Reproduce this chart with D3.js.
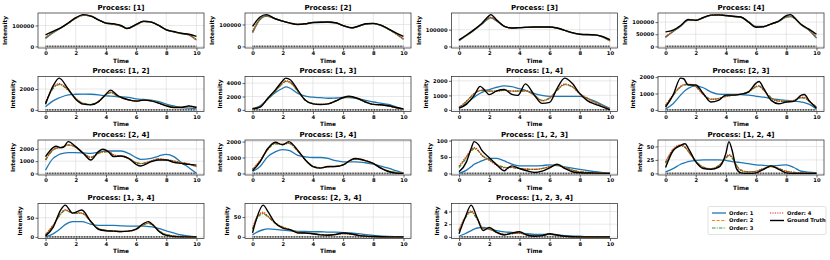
<!DOCTYPE html>
<html><head><meta charset="utf-8">
<script src="https://cdn.jsdelivr.net/npm/d3@7"></script>
<style>
body{margin:0;background:#fff}
svg{display:block}
text{font-family:"DejaVu Sans",sans-serif;font-weight:bold;fill:#000}
</style>
</head><body>
<svg id="c" width="830" height="260"></svg>
<script>
// ---------------- DATA ----------------
const processes = ["[1]","[2]","[3]","[4]","[1, 2]","[1, 3]","[1, 4]","[2, 3]","[2, 4]","[3, 4]","[1, 2, 3]","[1, 2, 4]","[1, 3, 4]","[2, 3, 4]","[1, 2, 3, 4]"];
const xTicks = [0,2,4,6,8,10];
const yTicks = [[0,100000],[0,100000],[0,100000],[0,50000,100000],[0,2000],[0,2000,4000],[0,1000,2000],[0,1000,2000],[0,1000,2000],[0,1000,2000],[0,50,100],[0,25,50],[0,50],[0,50],[0,2,4]];
const seriesNames = ["Order: 1","Order: 2","Order: 3","Order: 4","Ground Truth"];
const obsRange = [0,10];

const t1 = [0,0.5,1,1.5,2,2.5,3,3.5,4,4.5,5,5.4,6,6.5,7,7.5,8,8.5,9,9.5,10];
const gt1 = [55000,72000,89000,112000,137000,152000,145000,127000,111000,108000,100000,85000,105000,121000,116000,100000,79000,71000,63000,58000,48000];
const o1_1 = [38000,66000,87000,111000,136000,150000,146000,128000,112000,107000,98000,87000,103000,119000,117000,101000,80000,70000,62000,55000,30000];
const o2_1 = [41000,68000,88000,110000,135000,149000,145000,127000,111000,106000,97000,85000,102000,118000,116000,100000,79000,69000,61000,54000,29000];
const o3_1 = [40000,67000,87000,110000,134000,148000,145000,127000,111000,106000,97000,86000,103000,119000,116000,100000,79000,69000,61000,54000,31000];
const o4_1 = [42000,68000,88000,111000,135000,149000,145000,127000,111000,107000,98000,86000,103000,119000,116000,100000,80000,70000,62000,55000,32000];

const t2 = [0,0.5,0.9,1.5,2,2.5,3,3.5,4,5,5.5,6,6.6,7,7.5,8,8.5,9,9.5,10];
const gt2 = [91000,134000,145000,126000,115000,106000,100000,103000,109000,111000,108000,95000,85000,92000,103000,105000,97000,80000,62000,46000];
const o1_2 = [62000,122000,138000,127000,115000,106000,100000,103000,108000,110000,107000,95000,84000,91000,102000,104000,96000,79000,58000,33000];
const o2_2 = [64000,124000,139000,127000,115000,106000,100000,103000,109000,110000,107000,94000,84000,91000,102000,104000,96000,78000,57000,32000];
const o3_2 = [66000,125000,139000,126000,115000,106000,100000,103000,109000,111000,108000,95000,85000,92000,102000,104000,96000,79000,58000,34000];
const o4_2 = [68000,126000,140000,126000,115000,106000,100000,103000,109000,111000,108000,95000,85000,92000,103000,105000,97000,79000,59000,35000];

const t3 = [0,0.5,1,1.5,2,2.1,2.5,3,3.5,4,5,6,6.5,7,7.5,8,9,9.5,10];
const gt3 = [39000,68000,100000,137000,184000,190000,157000,120000,110000,112000,116000,116000,110000,96000,82000,73000,69000,59000,41000];
const o1_3 = [34000,65000,97000,132000,168000,170000,151000,120000,110000,112000,115000,115000,109000,95000,81000,72000,68000,57000,32000];
const o2_3 = [35000,66000,98000,133000,170000,172000,152000,120000,110000,112000,115000,115000,109000,95000,81000,72000,68000,57000,33000];
const o3_3 = [36000,66000,98000,134000,171000,173000,153000,120000,110000,112000,115000,115000,109000,95000,81000,72000,68000,58000,34000];
const o4_3 = [37000,67000,99000,134000,172000,174000,153000,121000,110000,112000,116000,116000,110000,96000,82000,73000,68000,58000,35000];

const t4 = [0,0.5,1,1.5,2,2.5,3,3.5,4,4.5,5,5.5,6,6.5,7,7.5,8,8.3,8.5,9,9.5,10];
const gt4 = [60000,67000,86000,111000,107000,119000,129000,130000,127000,124000,121000,100000,79000,81000,93000,104000,127000,131000,121000,90000,71000,50000];
const o1_4 = [37000,61000,83000,107000,108000,118000,128000,129000,127000,123000,120000,101000,82000,82000,92000,103000,121000,123000,117000,88000,67000,34000];
const o2_4 = [38000,62000,84000,108000,108000,118000,128000,129000,127000,123000,120000,101000,82000,82000,92000,103000,122000,124000,118000,89000,68000,35000];
const o3_4 = [39000,62000,84000,108000,108000,118000,128000,129000,127000,123000,120000,101000,81000,82000,92000,103000,122000,125000,118000,89000,68000,36000];
const o4_4 = [40000,63000,85000,109000,108000,118000,128000,129000,127000,124000,121000,101000,81000,82000,93000,104000,123000,126000,119000,89000,69000,37000];

const t5 = [0,0.5,0.9,1.5,2,2.5,3,3.5,4,4.3,4.8,5.5,6,6.5,7,7.5,8,8.5,9,9.5,10];
const gt5 = [550,2300,3050,2000,1030,550,480,770,1500,1900,1350,970,840,940,870,650,390,230,230,390,230];
const o1_5 = [300,870,1150,1450,1500,1520,1500,1450,1350,1320,1260,1200,1050,1000,940,800,550,380,230,170,130];
const o2_5 = [700,2100,2480,1900,1100,620,520,800,1450,1680,1300,960,860,920,860,650,420,280,260,330,250];
const o3_5 = [680,2050,2420,1880,1120,640,540,800,1420,1640,1300,970,870,920,860,660,430,290,260,320,260];
const o4_5 = [720,2150,2520,1920,1090,610,510,790,1460,1700,1310,960,860,930,860,650,420,280,250,340,240];

const t6 = [0,0.5,1,1.5,2,2.2,2.5,3,3.5,4,4.5,5,5.5,6,6.4,7,7.5,8,8.5,9,9.5,10];
const gt6 = [150,400,1700,2950,4350,4750,4500,2950,1450,900,800,900,1330,1850,2050,1700,1180,820,770,620,360,150];
const o1_6 = [150,600,1600,2560,3230,3430,3230,2460,2050,1900,1820,1740,1780,1850,1850,1650,1430,1180,1000,820,450,100];
const o2_6 = [200,500,1650,2800,4000,4300,4100,2800,1450,950,820,900,1300,1800,1950,1650,1150,820,740,580,330,100];
const o3_6 = [220,520,1620,2750,3950,4250,4050,2780,1470,960,830,910,1300,1790,1940,1640,1150,830,740,580,330,110];
const o4_6 = [190,490,1670,2830,4050,4350,4150,2820,1440,940,810,890,1310,1810,1970,1660,1160,820,750,590,340,100];

const t7 = [0,0.5,1,1.4,1.7,2,2.5,3,3.5,3.9,4.4,5,5.5,6,6.5,7,7.5,8,8.5,9,9.5,10];
const gt7 = [120,400,1000,1620,1360,1050,1310,1400,1070,1000,1790,1000,450,520,1480,2190,1830,1120,640,400,210,0];
const o1_7 = [100,450,880,1150,1300,1400,1560,1650,1600,1480,1350,1120,1000,930,930,930,930,930,800,600,350,100];
const o2_7 = [170,600,1120,1330,1360,1290,1290,1360,1290,1300,1310,1000,640,810,1360,1760,1600,1120,800,520,280,50];
const o3_7 = [160,580,1100,1320,1350,1290,1280,1350,1290,1290,1300,1010,660,820,1340,1730,1580,1130,810,530,290,60];
const o4_7 = [180,610,1130,1340,1370,1300,1300,1370,1290,1310,1330,990,630,800,1380,1780,1610,1110,790,510,270,40];

const t8 = [0,0.5,1,1.2,1.5,2,2.5,3,3.5,4,4.5,5,5.5,6,6.2,6.5,7,7.5,8,8.5,9,9.2,9.5,10];
const gt8 = [170,900,1940,1900,1520,1520,1000,480,580,900,900,960,1100,1630,1730,1310,580,380,480,520,900,940,580,100];
const o1_8 = [60,380,900,1100,1310,1460,1350,1100,960,940,940,940,900,830,810,780,690,630,580,530,480,450,350,60];
const o2_8 = [270,900,1420,1520,1560,1420,940,650,690,830,900,960,1100,1420,1450,1210,730,540,520,580,750,740,540,170];
const o3_8 = [250,880,1400,1500,1550,1430,960,660,700,830,900,960,1090,1400,1430,1200,740,550,520,570,730,720,540,180];
const o4_8 = [280,920,1440,1540,1570,1410,930,640,680,820,900,960,1110,1440,1470,1220,720,530,510,590,770,760,530,160];

const t9 = [0,0.5,0.7,1,1.2,1.5,2,2.5,3,3.5,3.8,4.2,4.5,5,5.5,6,6.3,7,7.5,8,8.5,9,9.5,10];
const gt9 = [1370,2110,2220,2110,2160,2600,2190,1640,1100,1780,1970,1730,1370,1420,1230,740,600,960,1100,1100,900,820,740,680];
const o1_9 = [270,1230,1400,1590,1650,1700,1700,1670,1640,1730,1800,1830,1830,1830,1640,1290,1150,1230,1420,1560,1370,880,470,0];
const o2_9 = [1100,1920,2050,2110,2200,2330,2140,1640,1320,1640,1760,1780,1510,1420,1230,880,800,1010,1180,1100,1010,880,770,550];
const o3_9 = [1080,1900,2040,2100,2180,2300,2130,1650,1330,1630,1750,1770,1510,1420,1240,890,810,1000,1170,1100,1010,880,760,560];
const o4_9 = [1120,1940,2070,2120,2210,2350,2150,1630,1310,1650,1770,1790,1500,1410,1220,870,790,1020,1190,1110,1000,870,780,540];

const t10 = [0,0.5,1,1.5,2,2.4,3,3.5,4,4.5,5,5.5,6,6.5,6.8,7.5,8,8.5,9,9.5,10];
const gt10 = [160,730,1550,1960,1800,2000,1450,840,430,330,430,430,530,840,940,800,630,330,120,20,0];
const o1_10 = [120,430,1040,1350,1490,1450,1140,1040,1000,1000,940,800,730,730,730,670,590,460,330,170,20];
const o2_10 = [250,800,1500,1880,1830,1900,1400,850,450,360,420,440,540,820,900,790,600,340,150,50,10];
const o3_10 = [230,780,1480,1860,1820,1880,1410,860,460,370,420,440,540,810,890,780,610,350,160,60,10];
const o4_10 = [260,810,1520,1900,1840,1920,1390,840,440,350,410,440,540,830,910,800,600,330,140,40,10];

const t11 = [0,0.5,0.8,1,1.3,1.5,2,2.5,3,3.2,3.5,4,4.5,5,5.5,6,6.5,7,7.5,8,9,10];
const gt11 = [5,36,76,97,87,71,48,26,8,15,23,15,8,3,7,17,28,15,5,2,1,0];
const o1_11 = [0,10,20,28,34,38,46,46,38,34,28,23,23,23,24,26,24,20,16,12,5,0];
const o2_11 = [20,51,70,77,68,56,41,26,18,18,18,15,13,12,15,20,26,18,10,5,2,0];
const o3_11 = [18,48,68,75,67,56,42,27,19,18,18,15,13,12,15,20,25,18,10,5,2,0];
const o4_11 = [22,53,72,79,69,56,40,25,17,17,18,15,13,12,15,21,27,18,10,5,2,0];

const t12 = [0,0.5,1,1.3,1.5,2,2.5,3,3.5,4,4.2,4.4,4.7,5,5.5,6,6.5,7,7.5,8,8.5,9,10];
const gt12 = [11,42,52,55,47,22,9,7.5,11,37,59,44,9,1,0,1,7.5,14,7.5,1,0,0,0];
const o1_12 = [3,9,17,20,22,24,25,25,25,24,23,22,21,20,18,16,15,14,15,16,11,4,1];
const o2_12 = [20,44,52,48,41,22,11,9,14,29,34,30,15,6,3,4,9,12.5,9,4,2,1,0];
const o3_12 = [19,43,51,48,41,23,12,9,14,28,33,29,15,6,3,4,9,12,9,4,2,1,0];
const o4_12 = [21,45,53,49,42,22,11,8,13,30,35,31,14,5,3,4,9,13,9,4,2,1,0];

const t13 = [0,0.5,1,1.3,1.8,2.4,3,3.5,4,4.5,5,5.5,6,6.5,6.8,7.2,7.5,8,9,10];
const gt13 = [2,25,70,83,62,70,40,20,16,15,14,15,20,35,40,28,15,4,0,0];
const o1_13 = [0,8,22,32,40,40,33,30,30,30,29,28,28,28,27,25,22,16,5,0];
const o2_13 = [5,30,60,70,62,62,40,22,17,15,14,15,20,32,36,28,17,6,1,0];
const o3_13 = [5,29,59,69,62,61,41,22,17,15,14,15,20,31,35,28,17,6,1,0];
const o4_13 = [6,31,61,71,63,63,40,21,16,15,14,15,20,33,37,28,16,5,1,0];

const t14 = [0,0.3,0.7,1,1.5,2,2.5,3,3.5,4,4.5,5,5.5,6,6.5,7,7.5,8,9,10];
const gt14 = [10,50,80,65,35,22,18,10,10,8,5,4,6,10,8,4,2,1,0,0];
const o1_14 = [5,12,18,20,19,17,15,14,14,13,13,12,12,11,10,8,6,4,1,0];
const o2_14 = [20,48,60,52,35,25,18,12,10,8,6,5,6,8,7,4,2,1,0,0];
const o3_14 = [19,46,58,51,35,25,18,12,10,8,6,5,6,8,7,4,2,1,0,0];
const o4_14 = [21,50,62,53,35,24,18,12,10,8,6,5,6,8,7,4,2,1,0,0];

const t15 = [0,0.4,0.8,1.2,1.6,2,2.5,3,3.5,4,4.5,5,5.5,6,6.5,7,8,9,10];
const gt15 = [0.5,3,5,3,1,1.5,0.7,0.3,0.6,0.8,0.3,0.1,0.2,0.5,0.3,0.1,0,0,0];
const o1_15 = [0.1,0.5,1,1.4,1.5,1.3,1,0.8,0.7,0.6,0.5,0.4,0.4,0.4,0.3,0.2,0.1,0,0];
const o2_15 = [1,3,4,2.8,1.3,1.2,0.7,0.4,0.5,0.6,0.3,0.2,0.2,0.4,0.3,0.1,0,0,0];
const o3_15 = [0.9,2.9,3.9,2.8,1.3,1.2,0.7,0.4,0.5,0.6,0.3,0.2,0.2,0.4,0.3,0.1,0,0,0];
const o4_15 = [1.1,3.1,4.1,2.9,1.3,1.2,0.7,0.4,0.5,0.6,0.3,0.2,0.2,0.4,0.3,0.1,0,0,0];

// ---------------- BUILD TABLE ----------------
const T = [t1,t2,t3,t4,t5,t6,t7,t8,t9,t10,t11,t12,t13,t14,t15];
const O1 = [o1_1,o1_2,o1_3,o1_4,o1_5,o1_6,o1_7,o1_8,o1_9,o1_10,o1_11,o1_12,o1_13,o1_14,o1_15];
const O2 = [o2_1,o2_2,o2_3,o2_4,o2_5,o2_6,o2_7,o2_8,o2_9,o2_10,o2_11,o2_12,o2_13,o2_14,o2_15];
const O3 = [o3_1,o3_2,o3_3,o3_4,o3_5,o3_6,o3_7,o3_8,o3_9,o3_10,o3_11,o3_12,o3_13,o3_14,o3_15];
const O4 = [o4_1,o4_2,o4_3,o4_4,o4_5,o4_6,o4_7,o4_8,o4_9,o4_10,o4_11,o4_12,o4_13,o4_14,o4_15];
const GT = [gt1,gt2,gt3,gt4,gt5,gt6,gt7,gt8,gt9,gt10,gt11,gt12,gt13,gt14,gt15];

const styles = [
  {color:"#1f77b4", dash:null, w:1.3},
  {color:"#ff7f0e", dash:"3,1.6", w:1.2},
  {color:"#2ca02c", dash:"3.5,1.2,1,1.2", w:1.2},
  {color:"#d62728", dash:"1.2,1.2", w:1.2},
  {color:"#000000", dash:null, w:1.4}
];

// ---------------- LAYOUT ----------------
const colLeft = [38, 245, 451.5, 658];
const rowTop = [13, 76.5, 140, 203.5];
const PW = 166, PH = 35;

const svg = d3.select("#c");

processes.forEach((name, i) => {
  const col = i % 4, row = Math.floor(i / 4);
  const L = colLeft[col], Tp = rowTop[row];
  const t = T[i];
  const series = [O1[i], O2[i], O3[i], O4[i], GT[i]];
  const ymax = d3.max(series.flat());
  const x = d3.scaleLinear().domain([-0.5, 10.5]).range([L, L + PW]);
  const y = d3.scaleLinear().domain([-0.05 * ymax, 1.05 * ymax]).range([Tp + PH, Tp]);
  const g = svg.append("g");

  // grid
  g.selectAll(".gx").data(xTicks).join("line")
    .attr("x1", d => x(d)).attr("x2", d => x(d)).attr("y1", Tp).attr("y2", Tp + PH)
    .attr("stroke", "#d9d9d9").attr("stroke-width", 0.6);
  g.selectAll(".gy").data(yTicks[i]).join("line")
    .attr("x1", L).attr("x2", L + PW).attr("y1", d => y(d)).attr("y2", d => y(d))
    .attr("stroke", "#d9d9d9").attr("stroke-width", 0.6);

  // axes
  const xa = g.append("g").attr("transform", `translate(0,${Tp + PH})`)
    .call(d3.axisBottom(x).tickValues(xTicks).tickSize(2.5).tickPadding(1.2).tickFormat(d3.format("d")));
  const ya = g.append("g").attr("transform", `translate(${L},0)`)
    .call(d3.axisLeft(y).tickValues(yTicks[i]).tickSize(2.5).tickPadding(1.5).tickFormat(d3.format("d")));
  [xa, ya].forEach(a => {
    a.select(".domain").remove();
    a.selectAll(".tick line").attr("stroke", "#222").attr("stroke-width", 0.7);
    a.selectAll(".tick text").attr("font-size", 5.2).attr("font-family", "DejaVu Sans").attr("font-weight", "bold").attr("fill", "#000");
  });

  // observation markers
  g.append("line")
    .attr("x1", x(obsRange[0])).attr("x2", x(obsRange[1]))
    .attr("y1", y(0)).attr("y2", y(0))
    .attr("stroke", "#333").attr("stroke-width", 1.8).attr("stroke-dasharray", "0.9,0.7");

  // lines
  const line = d3.line().x((d, k) => x(t[k])).y(d => y(d)).curve(d3.curveMonotoneX);
  series.forEach((s, k) => {
    g.append("path").attr("d", line(s)).attr("fill", "none")
      .attr("stroke", styles[k].color).attr("stroke-width", styles[k].w)
      .attr("stroke-dasharray", styles[k].dash)
      .attr("stroke-linejoin", "round");
  });

  // frame
  g.append("rect").attr("x", L).attr("y", Tp).attr("width", PW).attr("height", PH)
    .attr("fill", "none").attr("stroke", "#222").attr("stroke-width", 0.7);

  // title
  g.append("text").attr("x", L + PW / 2).attr("y", Tp - 3.2).attr("text-anchor", "middle")
    .attr("font-size", 7).text("Process: " + name);
  // x label
  g.append("text").attr("x", L + PW / 2).attr("y", Tp + PH + 14.5).attr("text-anchor", "middle")
    .attr("font-size", 5.8).text("Time");
  // y label
  let maxW = 0;
  ya.selectAll(".tick text").each(function () { maxW = Math.max(maxW, this.getComputedTextLength()); });
  const lx = L - 2.5 - 1.5 - maxW - 5;
  g.append("text").attr("transform", `translate(${lx},${Tp + PH / 2}) rotate(-90)`)
    .attr("text-anchor", "middle").attr("font-size", 5.8).text("Intensity");
});

// ---------------- LEGEND ----------------
const lg = svg.append("g");
const lx0 = 708, ly0 = 206.5, lw = 118, lh = 28;
lg.append("rect").attr("x", lx0).attr("y", ly0).attr("width", lw).attr("height", lh)
  .attr("rx", 1.5).attr("fill", "#fff").attr("stroke", "#ccc").attr("stroke-width", 0.6);
seriesNames.forEach((n, k) => {
  const c = k < 3 ? 0 : 1, r = k < 3 ? k : k - 3;
  const ex = lx0 + 4 + c * 58, ey = ly0 + 6.5 + r * 7.5;
  lg.append("line").attr("x1", ex).attr("x2", ex + 14).attr("y1", ey).attr("y2", ey)
    .attr("stroke", styles[k].color).attr("stroke-width", styles[k].w).attr("stroke-dasharray", styles[k].dash);
  lg.append("text").attr("x", ex + 17).attr("y", ey + 1.9).attr("font-size", 5.2).attr("font-weight", "normal").text(n);
});
</script>
</body></html>
